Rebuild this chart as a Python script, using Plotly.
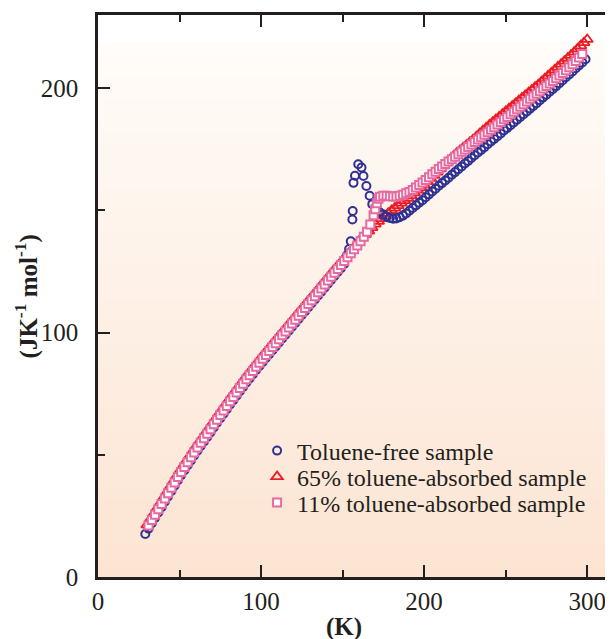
import plotly.graph_objects as go

# ---------------- data ----------------
blue_T = [29, 31, 33, 35, 37, 39, 41, 43, 45, 47, 49, 51, 53, 55, 57, 59, 61, 63, 65, 67,
          69, 71, 73, 75, 77, 79, 81, 83, 85, 87, 89, 91, 93, 95, 97, 99, 101, 103, 105, 107,
          109, 111, 113, 115, 117, 119, 121, 123, 125, 127, 129, 131, 133, 135, 137, 139, 141,
          143, 145, 147, 149, 151, 152.8, 154.0, 155.0, 156.0, 156.2, 156.7, 157.6, 159.6,
          161.6, 162.8, 164.6, 166.6, 168.2, 170.4, 172.6, 174.8, 177.0, 179.0, 181.0, 183.0,
          185, 187, 189, 191, 193, 195, 197, 199, 201, 203, 205, 207, 209, 211, 213, 215, 217,
          219, 221, 223, 225, 227, 229, 231, 233, 235, 237, 239, 241, 243, 245, 247, 249, 251,
          253, 255, 257, 259, 261, 263, 265, 267, 269, 271, 273, 275, 277, 279, 281, 283, 285,
          287, 289, 291, 293, 295, 297, 299]
blue_Cp = [17.6, 19.8, 22.0, 24.2, 26.4, 28.6, 30.8, 33.0, 35.2, 37.4, 39.6, 41.7, 43.7, 45.7,
           47.7, 49.7, 51.7, 53.6, 55.5, 57.3, 59.2, 61.2, 63.1, 65.0, 66.8, 68.7, 70.6, 72.4,
           74.2, 76.0, 77.8, 79.6, 81.3, 83.0, 84.7, 86.4, 88.0, 89.6, 91.2, 92.8, 94.4, 96.0,
           97.6, 99.2, 100.8, 102.4, 104.0, 105.6, 107.2, 108.8, 110.4, 112.0, 113.6, 115.2,
           116.8, 118.4, 120.0, 121.6, 123.2, 124.8, 126.4, 128.1, 131.8, 134.2, 137.4, 146.3,
           149.8, 161.3, 164.2, 168.9, 167.6, 164.1, 160.0, 156.0, 152.6, 150.6, 149.4, 148.4,
           147.5, 146.9, 146.6, 146.7, 147.2, 147.9, 148.8, 149.9, 151.0, 152.1, 153.2, 154.2,
           155.4, 156.6, 157.8, 158.9, 160.1, 161.2, 162.3, 163.4, 164.6, 165.7, 166.9, 168.0,
           169.2, 170.3, 171.5, 172.6, 173.7, 174.8, 175.9, 177.1, 178.2, 179.3, 180.4, 181.5,
           182.7, 183.8, 184.9, 186.0, 187.1, 188.3, 189.4, 190.5, 191.7, 192.8, 193.9, 195.1,
           196.3, 197.4, 198.6, 199.7, 200.9, 202.1, 203.3, 204.5, 205.7, 206.9, 208.2, 209.4,
           210.6, 211.9]

red_T = [30, 32, 34, 36, 38, 40, 42, 44, 46, 48, 50, 52, 54, 56, 58, 60, 62, 64, 66, 68, 70,
         72, 74, 76, 78, 80, 82, 84, 86, 88, 90, 92, 94, 96, 98, 100, 102, 104, 106, 108, 110,
         112, 114, 116, 118, 120, 122, 124, 126, 128, 130, 132, 134, 136, 138, 140, 142, 144,
         146, 148, 150, 152, 154, 156, 158, 160, 162, 164, 166, 168, 170, 172, 174, 176, 178,
         180, 182, 184, 186, 188, 190, 192, 194, 196, 198, 200, 202, 204, 206, 208, 210, 212,
         214, 216, 218, 220, 222, 224, 226, 228, 230, 232, 234, 236, 238, 240, 242, 244, 246,
         248, 250, 252, 254, 256, 258, 260, 262, 264, 266, 268, 270, 272, 274, 276, 278, 280,
         282, 284, 286, 288, 290, 292, 294, 296, 298, 300]
red_Cp = [21.3, 23.5, 25.7, 27.9, 30.1, 32.3, 34.5, 36.7, 38.9, 41.1, 43.3, 45.3, 47.3, 49.3,
          51.3, 53.3, 55.2, 57.1, 59.0, 60.9, 62.8, 64.7, 66.6, 68.5, 70.4, 72.3, 74.1, 75.9,
          77.7, 79.5, 81.3, 83.0, 84.7, 86.4, 88.1, 89.8, 91.4, 93.0, 94.6, 96.2, 97.8, 99.4,
          101.0, 102.6, 104.2, 105.8, 107.4, 109.0, 110.6, 112.2, 113.8, 115.4, 117.0, 118.6,
          120.2, 121.8, 123.4, 125.0, 126.5, 128.0, 129.6, 131.1, 132.6, 134.1, 135.8, 137.4,
          138.8, 140.2, 141.6, 143.0, 144.4, 145.6, 146.7, 147.8, 148.9, 150.0, 151.0, 152.0,
          153.0, 154.0, 155.0, 156.1, 157.2, 158.3, 159.4, 160.5, 161.8, 163.1, 164.4, 165.7,
          167.0, 168.3, 169.6, 170.9, 172.2, 173.5, 174.6, 175.7, 176.8, 177.9, 179.0, 180.2,
          181.4, 182.6, 183.8, 185.0, 186.1, 187.2, 188.3, 189.4, 190.5, 191.6, 192.7, 193.8,
          194.9, 196.0, 197.1, 198.2, 199.3, 200.4, 201.5, 202.7, 203.9, 205.1, 206.3, 207.5,
          208.7, 209.9, 211.1, 212.3, 213.5, 214.8, 216.1, 217.4, 218.7, 220.0]

pink_T = [31, 33, 35, 37, 39, 41, 43, 45, 47, 49, 51, 53, 55, 57, 59, 61, 63, 65, 67, 69, 71,
          73, 75, 77, 79, 81, 83, 85, 87, 89, 91, 93, 95, 97, 99, 101, 103, 105, 107, 109, 111,
          113, 115, 117, 119, 121, 123, 125, 127, 129, 131, 133, 135, 137, 139, 141, 143, 145,
          147, 149, 151, 153, 155, 157, 159, 161, 163, 165, 167, 169, 170, 171, 172, 173, 175,
          177, 179, 181, 183, 185, 187, 189, 191, 193, 195, 197, 199, 201, 203, 205, 207, 209,
          211, 213, 215, 217, 219, 221, 223, 225, 227, 229, 231, 233, 235, 237, 239, 241, 243,
          245, 247, 249, 251, 253, 255, 257, 259, 261, 263, 265, 267, 269, 271, 273, 275, 277,
          279, 281, 283, 285, 287, 289, 291, 293, 295, 297]
pink_Cp = [21.1, 23.3, 25.5, 27.7, 29.9, 32.1, 34.3, 36.5, 38.7, 40.9, 43.0, 45.0, 47.0, 49.0,
           51.0, 53.0, 54.9, 56.8, 58.6, 60.5, 62.5, 64.4, 66.3, 68.1, 70.0, 71.9, 73.7, 75.5,
           77.3, 79.1, 80.9, 82.6, 84.3, 86.0, 87.7, 89.3, 90.9, 92.5, 94.1, 95.7, 97.3, 98.9,
           100.5, 102.1, 103.7, 105.3, 106.9, 108.5, 110.1, 111.7, 113.3, 114.9, 116.5, 118.1,
           119.7, 121.3, 122.9, 124.5, 126.1, 127.7, 129.3, 130.9, 132.5, 134.1, 135.7, 137.4,
           139.2, 141.3, 144.3, 148.0, 150.5, 153.0, 154.8, 155.6, 156.0, 156.0, 155.8, 155.7,
           155.7, 156.0, 156.4, 157.0, 157.6, 158.4, 159.4, 160.4, 161.4, 162.5, 163.6, 164.8,
           165.9, 167.0, 168.0, 169.0, 170.0, 171.0, 172.0, 173.0, 174.0, 175.0, 176.0, 177.0,
           178.0, 179.0, 180.0, 181.0, 182.0, 183.0, 184.1, 185.2, 186.2, 187.3, 188.3, 189.4,
           190.4, 191.4, 192.5, 193.5, 194.6, 195.7, 196.7, 197.8, 198.8, 199.9, 200.9, 202.0,
           203.0, 204.1, 205.2, 206.3, 207.4, 208.6, 209.8, 211.2, 212.6, 214.0]

series_names = ["Toluene-free sample", "65% toluene-absorbed sample", "11% toluene-absorbed sample"]
x_ticks = [0, 100, 200, 300]
y_ticks = [0, 100, 200]

# ---------------- styling ----------------
FONT = "Liberation Serif"
INK = "#231f20"
BLUE = "#2e3192"
RED = "#ed1c24"
PINK = "#e66a9f"

# page body has an 8px default margin; plot area is placed to compensate.
# The right frame of the original lies just past the picture's right edge.
BODY = 8
PLOT_L, PLOT_R, PLOT_T, PLOT_B = 98, 620, 15, 577
W = PLOT_R - BODY
H = 631
PW = PLOT_R - PLOT_L
PH = PLOT_B - PLOT_T
X_MAX = 0 + 300 * (PLOT_R - PLOT_L) / (590 - 98)


def px_x(p):
    return (p - PLOT_L) / PW


def px_y(p):
    return (PLOT_B - p) / PH


fig = go.Figure()

fig.add_trace(go.Scatter(
    x=red_T, y=red_Cp, mode="markers", name=series_names[1], legend="legend2",
    marker=dict(symbol="triangle-up-open", size=10, color=RED, line=dict(width=1.8, color=RED))))
fig.add_trace(go.Scatter(
    x=blue_T, y=blue_Cp, mode="markers", name=series_names[0], legend="legend",
    marker=dict(symbol="circle-open", size=8, color=BLUE, line=dict(width=2, color=BLUE))))
fig.add_trace(go.Scatter(
    x=pink_T, y=pink_Cp, mode="markers", name=series_names[2], legend="legend3",
    marker=dict(symbol="square", size=8, color="white", line=dict(width=2, color=PINK))))

# background vertical gradient (white at top -> peach at bottom)
shapes = []
N = 48
top_frac = 0.95
c_bot = (252, 228, 210)
c_top = (255, 252, 249)
for i in range(N):
    f0 = top_frac * i / N
    f1 = top_frac * (i + 1) / N
    t = (i + 0.5) / N
    col = tuple(round(c_bot[k] + (c_top[k] - c_bot[k]) * t) for k in range(3))
    shapes.append(dict(type="rect", xref="x domain", yref="y domain", x0=0, x1=1,
                       y0=f0, y1=f1 + 0.002, fillcolor="rgb(%d,%d,%d)" % col,
                       line=dict(width=0), layer="below"))

axis_common = dict(
    showline=True, linecolor=INK, linewidth=2.5, mirror="ticks",
    ticks="inside", ticklen=12, tickwidth=2, tickcolor=INK,
    showgrid=False, zeroline=False,
    tickfont=dict(family=FONT, size=25, color=INK),
)


def legend_at(row_center_px):
    return dict(
        x=px_x(258), y=px_y(row_center_px), xanchor="left", yanchor="middle",
        bgcolor="rgba(0,0,0,0)", borderwidth=0,
        font=dict(family=FONT, size=24, color=INK),
    )


fig.update_layout(
    width=W, height=H,
    margin=dict(l=PLOT_L - BODY, r=0, t=PLOT_T - BODY, b=H - (PLOT_B - BODY)),
    paper_bgcolor="white", plot_bgcolor="white",
    shapes=shapes,
    showlegend=True,
    legend=legend_at(451),
    legend2=legend_at(477),
    legend3=legend_at(503),
    xaxis=dict(range=[0, X_MAX], tickvals=x_ticks, **axis_common,
               minor=dict(dtick=50, tick0=0, ticks="inside", ticklen=7, tickwidth=2, tickcolor=INK)),
    yaxis=dict(range=[0, 230], tickvals=y_ticks, ticklabelstandoff=12, **axis_common,
               minor=dict(dtick=50, tick0=0, ticks="inside", ticklen=7, tickwidth=2, tickcolor=INK)),
    annotations=[
        dict(text="<b>(K)</b>", xref="paper", yref="paper", x=px_x(345), y=px_y(627),
             xanchor="center", yanchor="middle", showarrow=False,
             font=dict(family=FONT, size=25, color=INK)),
        dict(text="<b>(JK<sup>-1</sup> mol<sup>-1</sup>)</b>", xref="paper", yref="paper",
             x=px_x(26), y=0.5, xanchor="center", yanchor="middle", textangle=-90,
             showarrow=False, font=dict(family=FONT, size=25, color=INK)),
    ],
)

fig.write_html("out.html")
